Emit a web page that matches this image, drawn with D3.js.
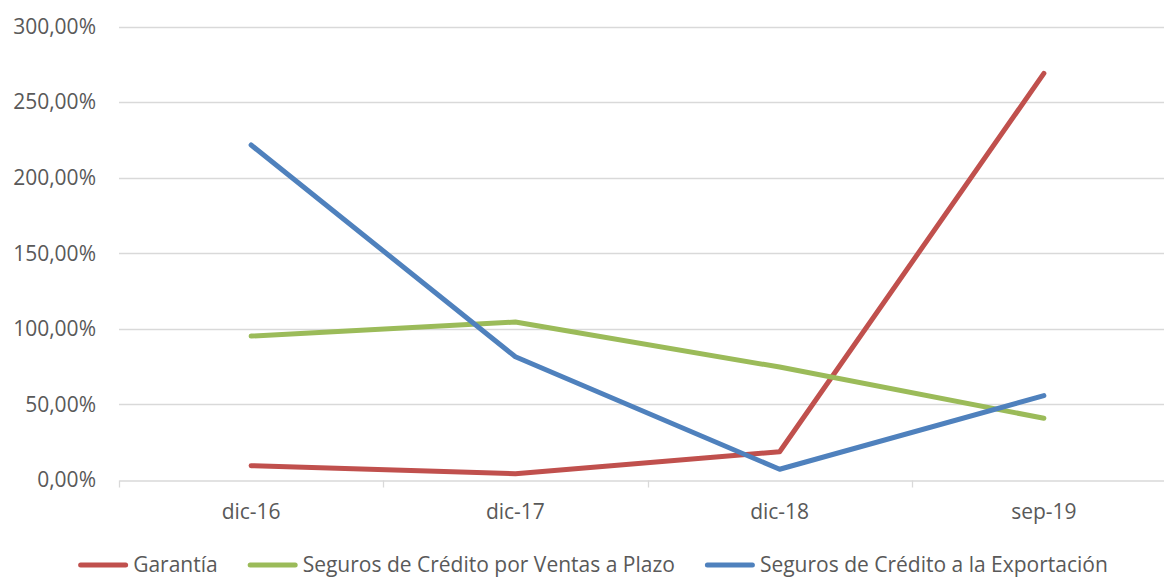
<!DOCTYPE html>
<html>
<head>
<meta charset="utf-8">
<script src="https://cdn.jsdelivr.net/npm/d3@7"></script>
<style>
  html, body { margin: 0; padding: 0; background: #fff; }
  svg { display: block; font-family: "Open Sans", "Noto Sans", sans-serif; }
</style>
</head>
<body>
<svg id="chart" width="1164" height="578"></svg>
<script>
// Categories (x axis)
const categories = ["dic-16", "dic-17", "dic-18", "sep-19"];

// Series values, in percent
const garantia = [9.5, 4.2, 18.7, 269.0];
const ventasPlazo = [95.2, 104.5, 74.7, 40.8];
const exportacion = [221.6, 81.5, 7.1, 55.8];

// Y axis ticks
const yTicks = [0, 50, 100, 150, 200, 250, 300];

const seriesNames = ["Garantía", "Seguros de Crédito por Ventas a Plazo", "Seguros de Crédito a la Exportación"];
const seriesColors = ["#C0504D", "#9BBB59", "#4F81BD"];
const seriesValues = [garantia, ventasPlazo, exportacion];

const svg = d3.select("#chart");
const textColor = "#595959";
const fontSize = 21;

const margin = { left: 119, right: -12, top: 26.5, bottom: 98 };
const W = 1164, H = 578;

const x = d3.scaleBand().domain(categories).range([margin.left, W - margin.right]).padding(0);
const y = d3.scaleLinear().domain([0, 300]).range([H - margin.bottom, margin.top]);

const fmt = v => d3.format(".2f")(v).replace(".", ",") + "%";

// Horizontal gridlines
svg.append("g")
  .selectAll("line")
  .data(yTicks.filter(t => t > 0))
  .join("line")
  .attr("x1", margin.left)
  .attr("x2", W - margin.right)
  .attr("y1", d => Math.round(y(d)) + 0.5)
  .attr("y2", d => Math.round(y(d)) + 0.5)
  .attr("stroke", "#d9d9d9")
  .attr("stroke-width", 1.3);

// Y axis labels
svg.append("g")
  .selectAll("text")
  .data(yTicks)
  .join("text")
  .attr("x", 96)
  .attr("y", d => y(d))
  .attr("dy", "0.35em")
  .attr("text-anchor", "end")
  .attr("fill", textColor)
  .attr("font-size", fontSize)
  .text(fmt);

// X axis with tick marks between categories
const xAxis = d3.axisBottom(x).tickSize(0).tickFormat(d => d);
const gx = svg.append("g")
  .attr("transform", `translate(0,${Math.round(y(0)) + 0.5})`)
  .call(xAxis);
gx.select(".domain").attr("stroke", "#d9d9d9").attr("stroke-width", 1.3);
gx.selectAll(".tick text")
  .attr("fill", textColor)
  .attr("font-size", fontSize)
  .attr("font-family", "\"Open Sans\", \"Noto Sans\", sans-serif")
  .attr("dy", 0)
  .attr("y", 38);

const boundaries = categories.map(c => x(c)).concat([x(categories[categories.length - 1]) + x.bandwidth()]);
gx.append("g")
  .selectAll("line")
  .data(boundaries)
  .join("line")
  .attr("x1", d => Math.round(d) + 0.5)
  .attr("x2", d => Math.round(d) + 0.5)
  .attr("y1", 0)
  .attr("y2", 7)
  .attr("stroke", "#d9d9d9")
  .attr("stroke-width", 1.3);

// Lines
const line = d3.line()
  .x((d, i) => x(categories[i]) + x.bandwidth() / 2)
  .y(d => y(d));

svg.append("g")
  .selectAll("path")
  .data(seriesValues)
  .join("path")
  .attr("d", d => line(d))
  .attr("fill", "none")
  .attr("stroke", (d, i) => seriesColors[i])
  .attr("stroke-width", 5)
  .attr("stroke-linecap", "round")
  .attr("stroke-linejoin", "round");

// Legend
const legend = svg.append("g");
const swatchW = 50, swatchGap = 5, itemGap = 30;
const items = seriesNames.map((name, i) => {
  const g = legend.append("g");
  g.append("line")
    .attr("x1", 2.5).attr("x2", swatchW - 2.5)
    .attr("y1", 0).attr("y2", 0)
    .attr("stroke", seriesColors[i])
    .attr("stroke-width", 5)
    .attr("stroke-linecap", "round");
  const t = g.append("text")
    .attr("x", swatchW + swatchGap)
    .attr("y", 0)
    .attr("dy", "0.32em")
    .attr("fill", textColor)
    .attr("font-size", fontSize)
    .text(name);
  return { g, w: swatchW + swatchGap + t.node().getComputedTextLength() };
});
const totalW = d3.sum(items, d => d.w) + itemGap * (items.length - 1);
let cx = 593 - totalW / 2;
items.forEach(it => {
  it.g.attr("transform", `translate(${cx},565)`);
  cx += it.w + itemGap;
});
</script>
</body>
</html>
